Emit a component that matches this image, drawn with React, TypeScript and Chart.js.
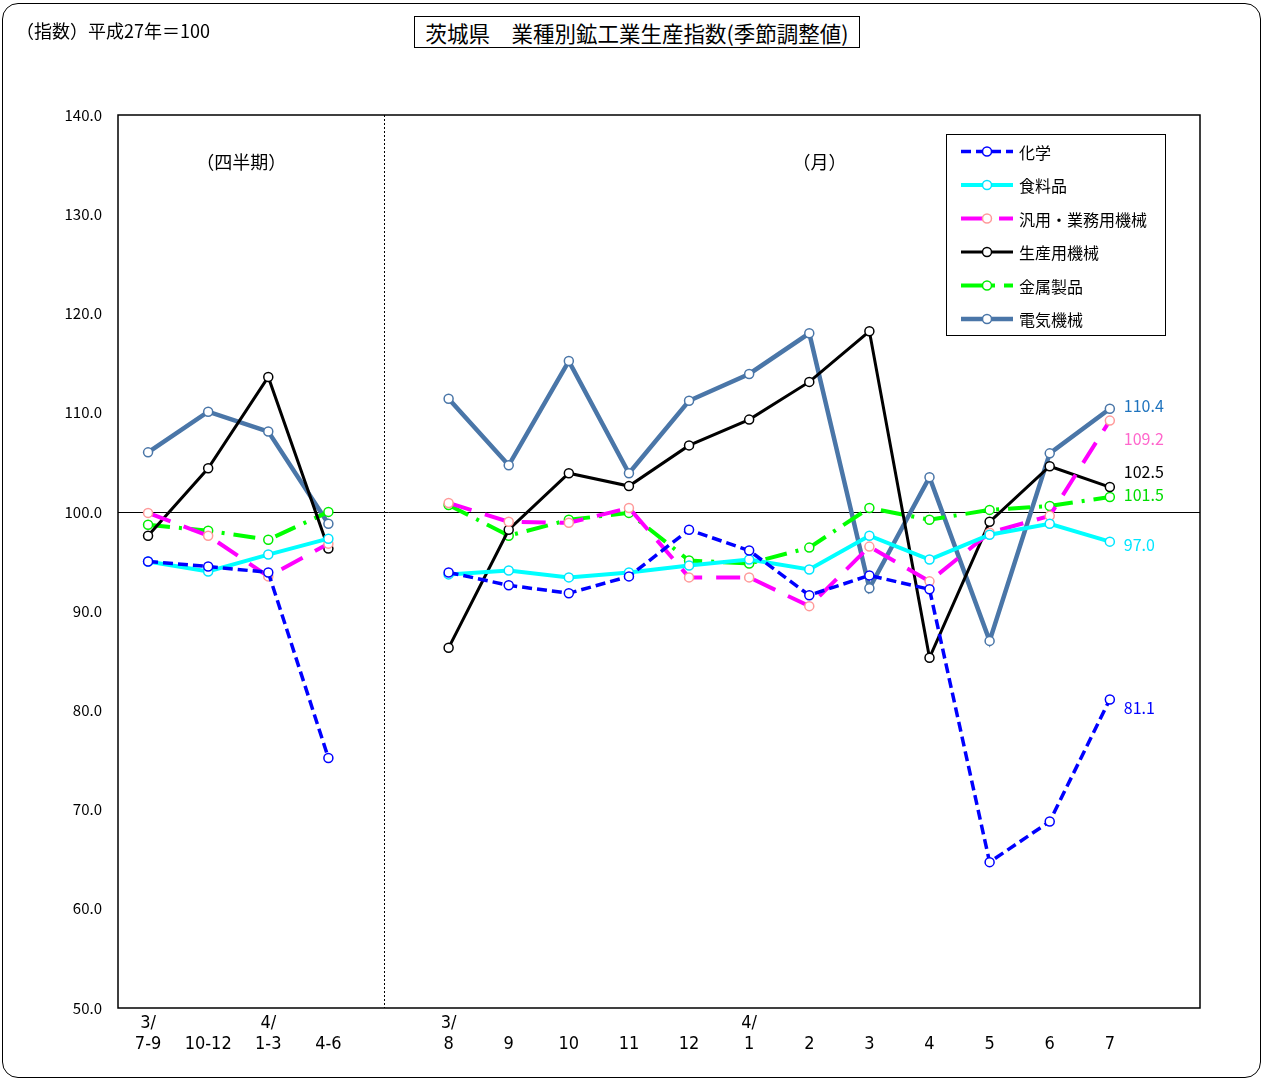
import React, { useEffect, useRef } from "react";
import { Chart, registerables } from "chart.js";
Chart.register(...registerables);

// ---- data ----
const topLabels = ["3/", "", "4/", "", "", "3/", "", "", "", "", "4/", "", "", "", "", "", "", ""];
const bottomLabels = ["7-9", "10-12", "1-3", "4-6", "", "8", "9", "10", "11", "12", "1", "2", "3", "4", "5", "6", "7", ""];
const yTicks = [50, 60, 70, 80, 90, 100, 110, 120, 130, 140];

const seriesNames = ["化学", "食料品", "汎用・業務用機械", "生産用機械", "金属製品", "電気機械"];
const chemical = [95.0, 94.5, 93.9, 75.2, null, 93.9, 92.6, 91.8, 93.5, 98.2, 96.1, 91.6, 93.6, 92.2, 64.7, 68.8, 81.1, null];
const food = [95.0, 94.0, 95.7, 97.3, null, 93.7, 94.1, 93.4, 93.9, 94.6, 95.2, 94.2, 97.6, 95.2, 97.7, 98.8, 97.0, null];
const general = [99.9, 97.6, 93.5, 96.8, null, 100.9, 99.0, 98.9, 100.4, 93.4, 93.4, 90.5, 96.5, 93.0, 97.9, 99.6, 109.2, null];
const production = [97.6, 104.4, 113.6, 96.3, null, 86.3, 98.2, 103.9, 102.6, 106.7, 109.3, 113.1, 118.2, 85.3, 99.0, 104.6, 102.5, null];
const metal = [98.7, 98.1, 97.2, 100.0, null, 100.7, 97.6, 99.2, 99.9, 95.1, 94.8, 96.4, 100.4, 99.2, 100.2, 100.6, 101.5, null];
const electric = [106.0, 110.1, 108.1, 98.8, null, 111.4, 104.7, 115.2, 103.9, 111.2, 113.9, 118.0, 92.3, 103.5, 87.0, 105.9, 110.4, null];
const seriesData = [chemical, food, general, production, metal, electric];
const lastIndex = 16;

// ---- styles ----
const lineColors = ["#0000FF", "#00FFFF", "#FF00FF", "#000000", "#00FF00", "#4A76A8"];
const pointColors = ["#0000FF", "#00E5FF", "#FF9A9A", "#000000", "#00EE00", "#4A76A8"];
const lineWidths = [3.5, 4, 4, 3, 4, 4.5];
const lineDashes = [[10, 5], [], [24, 14], [], [22, 9, 3, 9], []];
const valueLabelColors = ["#0000FF", "#00E5FF", "#FF66CC", "#000000", "#00DD00", "#1E73BE"];
const valueLabelDy = [9, 3, 18, -15, -2, -3];

const JP = "'Noto Sans CJK JP', 'Noto Sans', sans-serif";
const NARROW = "'Liberation Sans Narrow', 'DejaVu Sans Condensed', 'Noto Sans', sans-serif";

const decor = {
  id: "decor",
  beforeDatasetsDraw(chart: any) {
    const { ctx, chartArea: a, scales } = chart;
    const x = scales.x, y = scales.y;
    ctx.save();
    const y100 = Math.round(y.getPixelForValue(100)) + 0.5;
    ctx.strokeStyle = "#000";
    ctx.lineWidth = 1;
    ctx.beginPath();
    ctx.moveTo(a.left, y100);
    ctx.lineTo(a.right, y100);
    ctx.stroke();
    const sx = Math.round(x.getPixelForValue(4) - 5) + 0.5;
    ctx.setLineDash([2, 2]);
    ctx.beginPath();
    ctx.moveTo(sx, a.top);
    ctx.lineTo(sx, a.bottom);
    ctx.stroke();
    ctx.setLineDash([]);
    ctx.fillStyle = "#000";
    ctx.font = `18px ${JP}`;
    ctx.textAlign = "center";
    ctx.textBaseline = "middle";
    ctx.fillText("（四半期）", x.getPixelForValue(1.55), a.top + 47);
    ctx.fillText("（月）", x.getPixelForValue(11.17), a.top + 47);
    ctx.restore();
  },
  afterDraw(chart: any) {
    const { ctx, chartArea: a, scales } = chart;
    const x = scales.x, y = scales.y;
    ctx.save();
    // plot border
    ctx.strokeStyle = "#000";
    ctx.lineWidth = 1.5;
    ctx.strokeRect(a.left, a.top, a.right - a.left, a.bottom - a.top);
    // value labels
    ctx.font = `16px ${JP}`;
    ctx.textAlign = "left";
    ctx.textBaseline = "middle";
    seriesData.forEach((d, i) => {
      const v = d[lastIndex] as number;
      ctx.fillStyle = valueLabelColors[i];
      ctx.fillText(v.toFixed(1), x.getPixelForValue(lastIndex) + 14, y.getPixelForValue(v) + valueLabelDy[i]);
    });
    // legend
    const lx = 946, ly = 134, lw = 219, lh = 201;
    ctx.fillStyle = "#fff";
    ctx.fillRect(lx, ly, lw, lh);
    ctx.lineWidth = 1;
    ctx.strokeStyle = "#000";
    ctx.strokeRect(lx + 0.5, ly + 0.5, lw, lh);
    seriesNames.forEach((name, i) => {
      const ry = ly + 17.5 + i * 33.5;
      ctx.beginPath();
      ctx.setLineDash(lineDashes[i]);
      ctx.strokeStyle = lineColors[i];
      ctx.lineWidth = lineWidths[i];
      ctx.moveTo(lx + 15, ry);
      ctx.lineTo(lx + 67, ry);
      ctx.stroke();
      ctx.setLineDash([]);
      ctx.beginPath();
      ctx.arc(lx + 41, ry, 4.5, 0, Math.PI * 2);
      ctx.fillStyle = "#fff";
      ctx.fill();
      ctx.lineWidth = 1.5;
      ctx.strokeStyle = pointColors[i];
      ctx.stroke();
      ctx.fillStyle = "#000";
      ctx.font = `16px ${JP}`;
      ctx.textAlign = "left";
      ctx.textBaseline = "middle";
      ctx.fillText(name, lx + 73, ry + 1);
    });
    ctx.restore();
  },
};

export default function App() {
  const ref = useRef<HTMLCanvasElement | null>(null);
  useEffect(() => {
    if (!ref.current) return;
    const labels = bottomLabels.map((b, i) => [topLabels[i], b]);
    const chart = new Chart(ref.current, {
      type: "line",
      data: {
        labels,
        datasets: seriesData.map((d, i) => ({
          label: seriesNames[i],
          data: d,
          borderColor: lineColors[i],
          borderWidth: lineWidths[i],
          borderDash: lineDashes[i],
          pointRadius: 4.5,
          pointHoverRadius: 4.5,
          pointBorderWidth: 1.5,
          pointBackgroundColor: "#fff",
          pointBorderColor: pointColors[i],
          tension: 0,
          spanGaps: false,
          fill: false,
        })),
      },
      options: {
        animation: false,
        responsive: false,
        maintainAspectRatio: false,
        layout: { padding: { left: 0, top: 115, right: 62, bottom: 0 } },
        plugins: { legend: { display: false }, tooltip: { enabled: false } },
        scales: {
          x: {
            type: "category",
            offset: true,
            grid: { display: false, drawTicks: false },
            border: { display: false },
            ticks: {
              autoSkip: false,
              maxRotation: 0,
              minRotation: 0,
              color: "#000",
              padding: 5,
              font: { family: NARROW, size: 18, lineHeight: 1.15 },
            },
            afterFit: (s: any) => { s.height = 73; },
          },
          y: {
            min: 50,
            max: 140,
            afterBuildTicks: (s: any) => { s.ticks = yTicks.map((v) => ({ value: v })); },
            ticks: {
              color: "#000",
              padding: 16,
              font: { family: JP, size: 15 },
              callback: (v: any) => Number(v).toFixed(1),
            },
            grid: { display: false, drawTicks: false },
            border: { display: false },
            afterFit: (s: any) => { s.width = 118; },
          },
        },
      },
      plugins: [decor],
    });
    return () => chart.destroy();
  }, []);

  return (
    <div style={{ position: "absolute", left: 0, top: 0, width: 1262, height: 1081, background: "#fff", overflow: "hidden" }}>
      <div style={{ position: "absolute", left: 2, top: 3, width: 1257, height: 1073, border: "1px solid #000", borderRadius: 16 }} />
      <canvas ref={ref} width={1262} height={1081} style={{ position: "absolute", left: 0, top: 0, display: "block" }} />
      <div style={{ position: "absolute", left: 16, top: 18, font: `18px ${JP}`, color: "#000", lineHeight: "24px", whiteSpace: "nowrap" }}>
        （指数）平成27年＝100
      </div>
      <div style={{ position: "absolute", left: 414, top: 16, width: 444, height: 30, border: "1px solid #000", background: "#fff", display: "flex", alignItems: "center", justifyContent: "center", font: `21.5px ${JP}`, color: "#000", whiteSpace: "nowrap" }}>
        茨城県　業種別鉱工業生産指数(季節調整値)
      </div>
    </div>
  );
}
